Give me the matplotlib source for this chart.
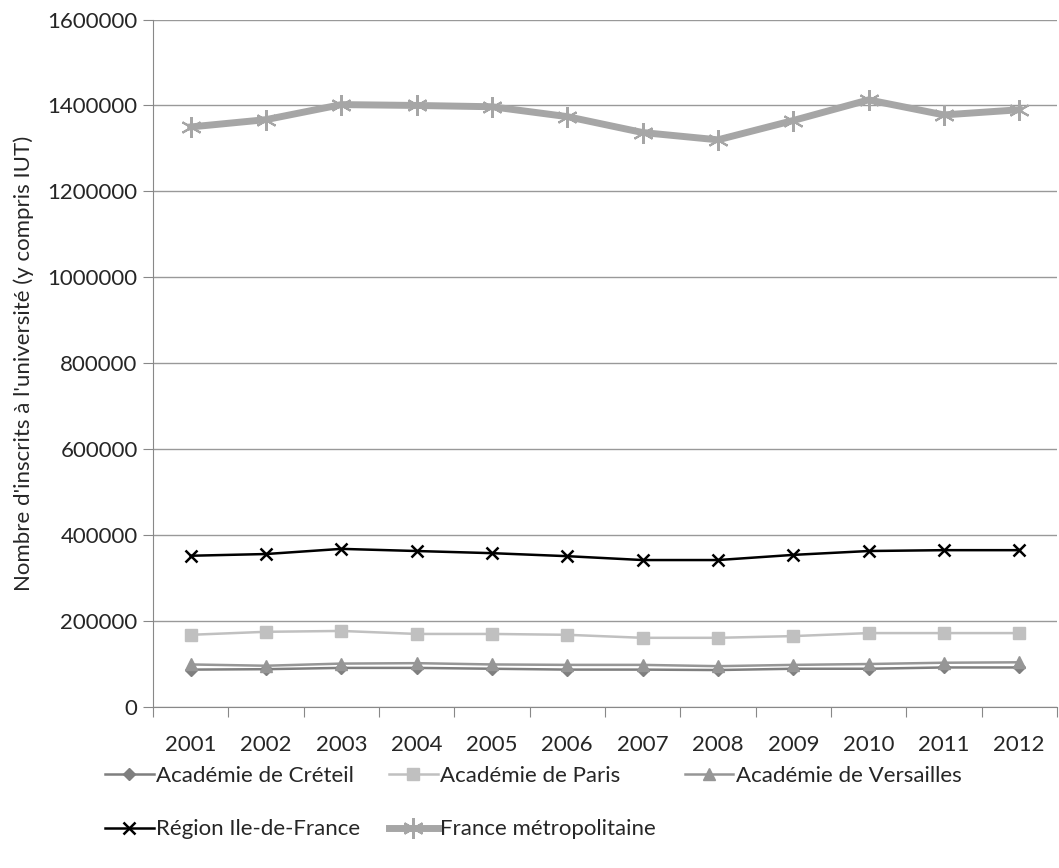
import matplotlib.pyplot as plt
from matplotlib.ticker import FuncFormatter

plt.rcParams['font.family'] = ['Lato', 'DejaVu Sans']

years = ['2001', '2002', '2003', '2004', '2005', '2006', '2007', '2008', '2009', '2010', '2011', '2012']
creteil = [87000, 88000, 91000, 91000, 89000, 87000, 87000, 86000, 89000, 89000, 92000, 92000]
paris = [168000, 175000, 177000, 170000, 170000, 168000, 161000, 161000, 165000, 172000, 172000, 172000]
versailles = [99000, 96000, 101000, 102000, 99000, 98000, 98000, 95000, 98000, 100000, 103000, 104000]
idf = [352000, 356000, 368000, 363000, 358000, 351000, 342000, 342000, 354000, 363000, 365000, 365000]
france = [1350000, 1367000, 1402000, 1400000, 1397000, 1374000, 1337000, 1320000, 1365000, 1413000, 1378000, 1390000]

x = range(len(years))
txt = '#262626'

fig = plt.figure(figsize=(10.59, 8.68), dpi=100)
ax = fig.add_axes([0.1445, 0.1855, 0.8535, 0.792])

l1, = ax.plot(x, creteil, color='#7f7f7f', marker='D', markersize=6, lw=1.8, label='Académie de Créteil')
l2, = ax.plot(x, paris, color='#c0c0c0', marker='s', markersize=9, lw=1.8, label='Académie de Paris')
l3, = ax.plot(x, versailles, color='#969696', marker='^', markersize=9, lw=1.8, label='Académie de Versailles')
l4, = ax.plot(x, idf, color='black', marker='x', markersize=9, mew=1.8, lw=1.8, label='Région Ile-de-France')
l5, = ax.plot(x, france, color='#a6a6a6', marker=(6, 2, 0), markersize=15, mew=1.5, lw=5, label='France métropolitaine')

ax.set_xlim(-0.5, len(years) - 0.5)
ax.set_ylim(0, 1600000)
ax.set_yticks(range(0, 1600001, 200000))
ax.yaxis.set_major_formatter(FuncFormatter(lambda v, p: '%d' % v))
ax.set_xticks([i - 0.5 for i in range(len(years) + 1)], minor=False)
ax.set_xticklabels([])
ax.set_xticks(list(x), minor=True)
ax.set_xticklabels(years, minor=True)
ax.tick_params(axis='x', which='minor', length=0, labelsize=16, pad=20, labelcolor=txt)
ax.tick_params(axis='x', which='major', length=7, color='#888888')
ax.tick_params(axis='y', length=7, color='#888888', labelsize=16, labelcolor=txt, pad=4)
ax.yaxis.grid(True, color='#999999', lw=1)
ax.set_axisbelow(True)
for s in ['top', 'right']:
    ax.spines[s].set_visible(False)
for s in ['left', 'bottom']:
    ax.spines[s].set_color('#888888')
ax.set_ylabel("Nombre d'inscrits à l'université (y compris IUT)", fontsize=16, color=txt, labelpad=10)

# order so that the legend fills row by row
order = [l1, l4, l2, l5, l3]
leg = fig.legend(order, [l.get_label() for l in order],
                 loc='lower left', bbox_to_anchor=(0.08, 0.01), ncol=3, frameon=False, fontsize=16,
                 handlelength=2.2, handletextpad=0.1, columnspacing=1.3, labelspacing=1.5)
for t in leg.get_texts():
    t.set_color(txt)

fig.savefig('out.png', dpi=100)
